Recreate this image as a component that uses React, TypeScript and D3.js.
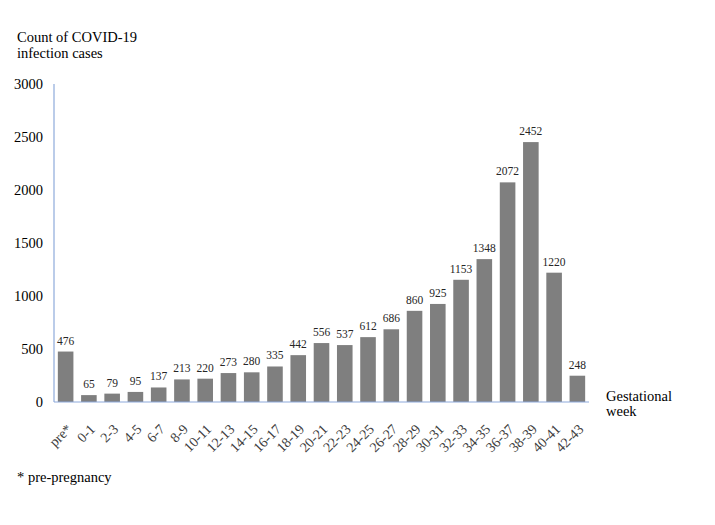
import React from 'react';
import * as d3 from 'd3';

const weeks = ['pre*', '0-1', '2-3', '4-5', '6-7', '8-9', '10-11', '12-13', '14-15', '16-17', '18-19', '20-21',
  '22-23', '24-25', '26-27', '28-29', '30-31', '32-33', '34-35', '36-37', '38-39', '40-41', '42-43'];
const cases = [476, 65, 79, 95, 137, 213, 220, 273, 280, 335, 442, 556, 537, 612, 686, 860, 925, 1153, 1348, 2072, 2452, 1220, 248];
const yTicks = [0, 500, 1000, 1500, 2000, 2500, 3000];

const W = 715;
const H = 525;
const left = 54;
const right = 589;
const top = 84;
const bottom = 402;
const font = 'Liberation Serif, Tinos, DejaVu Serif, serif';

export default function App() {
  const x = d3.scaleBand<string>().domain(weeks).range([left, right]).paddingInner(0.33).paddingOuter(0.165);
  const y = d3.scaleLinear().domain([0, 3000]).range([bottom, top]);

  return (
    <svg width={W} height={H} style={{ position: 'absolute', left: 0, top: 0 }}>
      <rect width={W} height={H} fill="#fff" />
      <g fontFamily={font}>
        <text x={17} y={42} fontSize={14.5} fill="#000">Count of COVID-19</text>
        <text x={17} y={58} fontSize={14.5} fill="#000">infection cases</text>

        {yTicks.map(t => (
          <text key={t} x={43} y={y(t) + 5} fontSize={14.5} textAnchor="end" fill="#000">{t}</text>
        ))}

        {weeks.map((w, i) => (
          <g key={w}>
            <rect x={x(w)} y={y(cases[i])} width={x.bandwidth()} height={bottom - y(cases[i])} fill="#7f7f7f" />
            <text x={(x(w) ?? 0) + x.bandwidth() / 2} y={y(cases[i]) - 7} fontSize={11.5} textAnchor="middle" fill="#262626">
              {cases[i]}
            </text>
            <text
              transform={`translate(${(x(w) ?? 0) + x.bandwidth() / 2 + 7},${bottom + 28}) rotate(-45)`}
              fontSize={14}
              textAnchor="end"
              fill="#404040"
            >
              {w}
            </text>
          </g>
        ))}

        <line x1={left} x2={left} y1={top} y2={bottom} stroke="#8eaadb" strokeWidth={1.2} />
        <line x1={left} x2={right} y1={bottom} y2={bottom} stroke="#8eaadb" strokeWidth={1.2} />

        <text x={606} y={401} fontSize={14.5} fill="#000">Gestational</text>
        <text x={606} y={416} fontSize={14.5} fill="#000">week</text>

        <text x={17} y={482} fontSize={14.5} fill="#000">* pre-pregnancy</text>
      </g>
    </svg>
  );
}
